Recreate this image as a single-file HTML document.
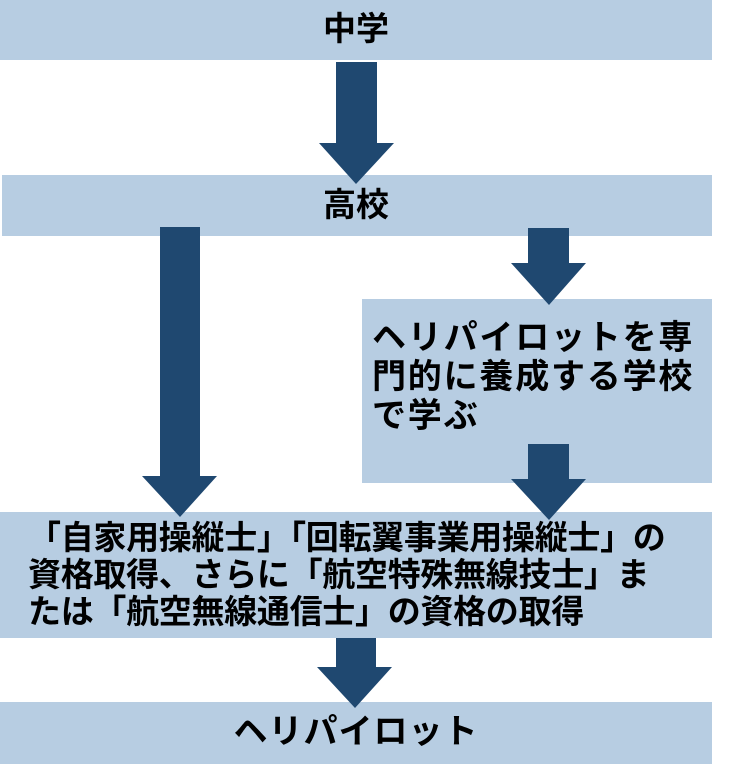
<!DOCTYPE html>
<html><head><meta charset="utf-8"><style>
body{margin:0;width:736px;height:764px;background:#fff;position:relative;overflow:hidden;font-family:"Liberation Sans","Noto Sans CJK JP",sans-serif;font-weight:bold;color:#000}
.b{position:absolute;background:#b7cde2}
.t{position:absolute;white-space:nowrap}
svg{position:absolute;left:0;top:0}
</style></head><body>
<div class="b" style="left:0;top:0;width:712px;height:60px"></div>
<div class="b" style="left:2px;top:175px;width:710px;height:61px"></div>
<div class="b" style="left:362px;top:299px;width:350px;height:184px"></div>
<div class="b" style="left:0;top:512px;width:712px;height:126px"></div>
<div class="b" style="left:0;top:702px;width:712px;height:62px"></div>
<svg width="736" height="764">
<g fill="#1f4870">
<polygon points="336,62 377,62 377,143 394,143 356,184 319,143 336,143"/>
<polygon points="160,227 200,227 200,476 217,476 180,517 142,476 160,476"/>
<polygon points="528,228 569,228 569,263 586,263 549,305 511,263 528,263"/>
<polygon points="528,444 569,444 569,479 586,479 549,520 511,479 528,479"/>
<polygon points="336,638 376,638 376,667 392,667 355,708 317,667 336,667"/>
</g></svg>
<div class="t" style="left:0;width:712px;text-align:center;top:10px;font-size:33px;line-height:38px">中学</div>
<div class="t" style="left:0;width:712px;text-align:center;top:186px;font-size:33px;line-height:38px">高校</div>
<div class="t" style="left:372px;top:319px;font-size:34px;line-height:39px;letter-spacing:1.8px">ヘリパイロットを専<br>門的に養成する学校<br>で学ぶ</div>
<div class="t" style="left:28px;top:519px;font-size:33px;line-height:37px;letter-spacing:-0.3px">「自家用操縦士」「回転翼事業用操縦士」の<br>資格取得、さらに「航空特殊無線技士」ま<br>たは「航空無線通信士」の資格の取得</div>
<div class="t" style="left:0;width:712px;text-align:center;top:712px;font-size:34px;line-height:40px;letter-spacing:1px">ヘリパイロット</div>
</body></html>
